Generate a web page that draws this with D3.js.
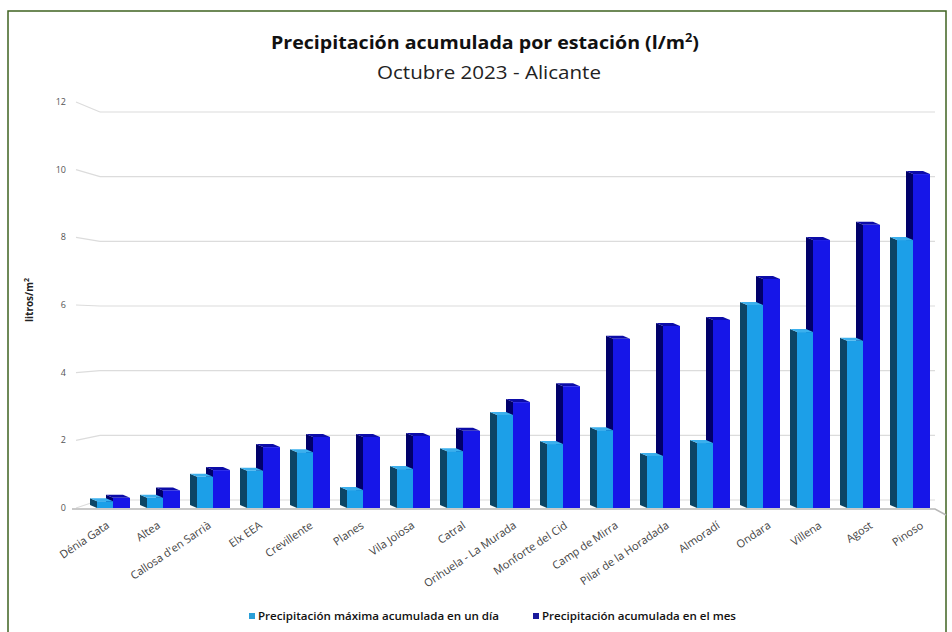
<!DOCTYPE html>
<html><head><meta charset="utf-8">
<script src="https://cdn.jsdelivr.net/npm/d3@7"></script>
<style>body{margin:0;background:#fff}svg{display:block}</style>
</head><body>
<svg id="c" width="952" height="632"></svg>
<script>
const categories = ["Dénia Gata","Altea","Callosa d'en Sarrià","Elx EEA","Crevillente","Planes","Vila Joiosa","Catral","Orihuela - La Murada","Monforte del Cid","Camp de Mirra","Pilar de la Horadada","Almoradí","Ondara","Villena","Agost","Pinoso"];
const maxDia = [0.2,0.3,0.92,1.1,1.65,0.53,1.15,1.68,2.75,1.89,2.3,1.54,1.92,6.0,5.2,4.94,7.92];
const acumMes = [0.3,0.52,1.12,1.8,2.1,2.1,2.13,2.28,3.13,3.6,5.0,5.38,5.56,6.77,7.92,8.37,9.87];
const yTicks = [0,2,4,6,8,10,12];
const seriesNames = ["Precipitación máxima acumulada en un día","Precipitación acumulada en el mes"];

const svg = d3.select("#c");
const font = "'Open Sans', 'Liberation Sans', sans-serif";

// frame
svg.append("rect").attr("x",8).attr("y",11).attr("width",938).attr("height",640)
  .attr("fill","none").attr("stroke","#3f6320").attr("stroke-width",1.5);

const x = d3.scaleBand().domain(categories).range([88,938]);
const yFront = d3.scaleLinear().domain([0,12]).range([508,102]);
const yBack = d3.scaleLinear().domain([0,12]).range([500,112]);

// gridlines
const g = svg.append("g");
yTicks.forEach(v=>{
  g.append("line").attr("x1",100).attr("x2",935).attr("y1",yBack(v)).attr("y2",yBack(v))
    .attr("stroke","#dcdcdc").attr("stroke-width",1.2);
  g.append("line").attr("x1",76).attr("x2",100).attr("y1",yFront(v)).attr("y2",yBack(v))
    .attr("stroke","#dcdcdc").attr("stroke-width",1.2);
  g.append("text").attr("x",66).attr("y",yFront(v)).attr("dy","0.35em").attr("text-anchor","end")
    .attr("font-family",font).attr("font-size",9).attr("fill","#555").text(v);
});
// floor front edge
g.append("path").attr("d",`M72,${yFront(0)+1}L935,${yFront(0)+1}L946,${yFront(0)+7}`)
  .attr("fill","none").attr("stroke","#b8b8b8").attr("stroke-width",1.5);

const dx=7, dy=3;
function bar(parent, x0, w, v, cols){
  const yT=yFront(v), yB=yFront(0);
  const gb=parent.append("g");
  gb.append("polygon").attr("points",[[x0-dx,yT-dy],[x0,yT],[x0,yB],[x0-dx,yB-dy]].join(" ")).attr("fill",cols.side);
  gb.append("polygon").attr("points",[[x0,yT],[x0+w,yT],[x0+w-dx,yT-dy],[x0-dx,yT-dy]].join(" ")).attr("fill",cols.top);
  gb.append("rect").attr("x",x0).attr("y",yT).attr("width",w).attr("height",yB-yT).attr("fill",cols.front);
}
const light={front:"#1c9fe8",side:"#0c4566",top:"#3bb0ee"};
const dark={front:"#1616e8",side:"#00006a",top:"#0c0ca8"};
const bars = svg.append("g");
categories.forEach((c,i)=>{
  const cx = x(c)+x.bandwidth()/2;
  bar(bars, cx, 17, acumMes[i], dark);
  bar(bars, cx-16, 16, maxDia[i], light);
});

// x labels
categories.forEach((c,i)=>{
  const cx = x(c)+x.bandwidth()/2 - 5 + 14*i/16;
  svg.append("text").attr("transform",`translate(${cx},${524}) rotate(-34)`)
    .attr("text-anchor","end").attr("dy","0.35em")
    .attr("font-family",font).attr("font-size",11).attr("fill","#444").text(c);
});

// y axis title
svg.append("text").attr("transform","translate(33,300) rotate(-90)").attr("text-anchor","middle")
  .attr("font-family",font).attr("font-size",10).attr("font-weight","bold").attr("fill","#222")
  .html('litros/m<tspan dy="-4" font-size="7">2</tspan>');

// titles
svg.append("text").attr("x",271).attr("y",49)
  .attr("font-family",font).attr("font-size",18.5).attr("font-weight","bold").attr("fill","#111")
  .attr("textLength",428).attr("lengthAdjust","spacingAndGlyphs")
  .html('Precipitación acumulada por estación (l/m<tspan dy="-7" font-size="12">2</tspan><tspan dy="7">)</tspan>');
svg.append("text").attr("x",377).attr("y",79)
  .attr("font-family",font).attr("font-size",19).attr("fill","#222")
  .attr("textLength",224).attr("lengthAdjust","spacingAndGlyphs").text("Octubre 2023 - Alicante");

// legend
const legCols=["#2a9fd8","#1a1a9c"];
const legX=[249,533];
const legW=[241,194];
seriesNames.forEach((n,i)=>{
  svg.append("rect").attr("x",legX[i]).attr("y",613).attr("width",6).attr("height",6).attr("fill",legCols[i]);
  svg.append("text").attr("x",legX[i]+9).attr("y",616).attr("dy","0.35em")
    .attr("font-family",font).attr("font-size",11).attr("font-weight",600).attr("fill","#111")
    .attr("textLength", legW[i]).attr("lengthAdjust","spacingAndGlyphs").text(n);
});
</script>
</body></html>
